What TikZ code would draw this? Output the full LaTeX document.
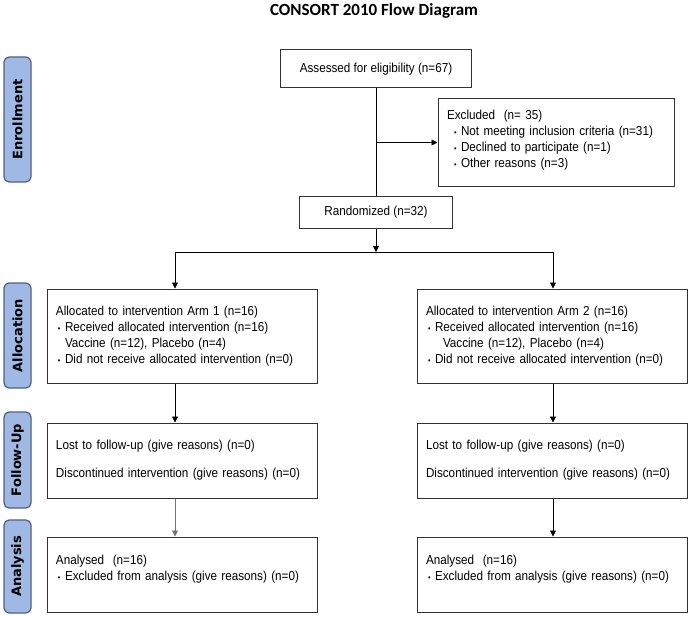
\documentclass[tikz,border=0pt]{standalone}
\usepackage{fontspec}
\setmainfont{Liberation Sans}[FakeStretch=0.9]
\newfontfamily\titlefont{Carlito}
\newfontfamily\tabfont{DejaVu Sans}
\usetikzlibrary{arrows.meta, positioning, fit, shapes}
\definecolor{tabfill}{RGB}{160,184,228}
\definecolor{tabline}{RGB}{80,96,130}
\newcommand{\itm}{\hspace*{2pt}\makebox[7pt][l]{\footnotesize\textbullet}}

\begin{document}
\begin{tikzpicture}[x=1pt, y=-1pt,
            stagebox/.style={ rectangle, draw=black!80, line width=1pt, inner xsep=9pt, inner ysep=3pt, align=left, font=\fontsize{13}{16}\selectfont },
            phasetab/.style={ rectangle, draw=tabline, line width=1.2pt, rounded corners=5pt, fill=tabfill, minimum height=27pt, rotate=90, font=\tabfont\bfseries\fontsize{13}{15}\selectfont },
            arrow/.style={ -{Triangle[length=6pt,width=6pt]}, line width=0.9pt }
        ]
            \useasboundingbox (0,0) rectangle (689,618);

            % Title
            \node (title) at (374,11) {\titlefont\bfseries\fontsize{17}{19}\selectfont CONSORT 2010 Flow Diagram};

            % Phase tabs
            \node (enrolltab) [phasetab, minimum width=125pt] at (17.5,119.5) {Enrollment};
            \node (alloctab) [phasetab, minimum width=105pt] at (17.5,335.5) {Allocation};
            \node (followtab) [phasetab, minimum width=96pt] at (17.5,460) {Follow-Up};
            \node (analysistab) [phasetab, minimum width=93pt] at (17.5,566.5) {Analysis};

            % Enrollment nodes
            \node (assessed) [stagebox, align=center, minimum width=191pt, minimum height=38pt] at (376,69) {Assessed for eligibility (n=67)};
            \node (excluded) [stagebox, text width=218pt, minimum height=87pt] at (556,142.5) {Excluded~~(n= 35)\\
                \hspace*{5pt}\itm Not meeting inclusion criteria (n=31)\\
                \hspace*{5pt}\itm Declined to participate (n=1)\\
                \hspace*{5pt}\itm Other reasons (n=3)\rule[-7pt]{0pt}{7pt}};
            \node (random) [stagebox, align=center, minimum width=153pt, minimum height=32pt] at (376,212) {Randomized (n=32)};

            % Arm nodes
            \node (alloc1) [stagebox, text width=252pt, minimum height=94pt] at (182,336) {Allocated to intervention Arm 1 (n=16)\\
                \itm Received allocated intervention (n=16)\\
                \hspace*{9pt}Vaccine (n=12), Placebo (n=4)\\
                \itm Did not receive allocated intervention (n=0)};
            \node (alloc2) [stagebox, text width=252pt, minimum height=94pt] at (552,336) {Allocated to intervention Arm 2 (n=16)\\
                \itm Received allocated intervention (n=16)\\
                \hspace*{17pt}Vaccine (n=12), Placebo (n=4)\\
                \itm Did not receive allocated intervention (n=0)};
            \node (follow1) [stagebox, text width=252pt, minimum height=75pt] at (182,460.5) {Lost to follow-up (give reasons) (n=0)\\[12pt]
                Discontinued intervention (give reasons) (n=0)};
            \node (follow2) [stagebox, text width=252pt, minimum height=75pt] at (552,460.5) {Lost to follow-up (give reasons) (n=0)\\[12pt]
                Discontinued intervention (give reasons) (n=0)};
            \node (analysis1) [stagebox, text width=252pt, minimum height=75pt] at (182,574.5) {Analysed~~(n=16)\\
                \itm Excluded from analysis (give reasons) (n=0)\rule[-14pt]{0pt}{14pt}};
            \node (analysis2) [stagebox, text width=252pt, minimum height=75pt] at (552,574.5) {Analysed~~(n=16)\\
                \itm Excluded from analysis (give reasons) (n=0)\rule[-14pt]{0pt}{14pt}};

            % Branch points
            \coordinate (leftcol) at (175,252);
            \coordinate (rightcol) at (553,252);

            % Arrows
            \draw[line width=0.9pt] (assessed) -- (random);
            \draw[arrow] (assessed.south |- excluded.west) -- (excluded.west);
            \draw[arrow] (random.south) -- (random.south |- leftcol);
            \draw[line width=0.9pt] (leftcol) -- (rightcol);
            \draw[arrow] (leftcol) -- (leftcol |- alloc1.north);
            \draw[arrow] (rightcol) -- (rightcol |- alloc2.north);
            \draw[arrow] (alloc1.south -| leftcol) -- (follow1.north -| leftcol);
            \draw[arrow] (alloc2.south -| rightcol) -- (follow2.north -| rightcol);
            \draw[arrow, draw=black!55, fill=black!55] (follow1.south -| leftcol) -- (analysis1.north -| leftcol);
            \draw[arrow] (follow2.south -| rightcol) -- (analysis2.north -| rightcol);

        \end{tikzpicture}
\end{document}
